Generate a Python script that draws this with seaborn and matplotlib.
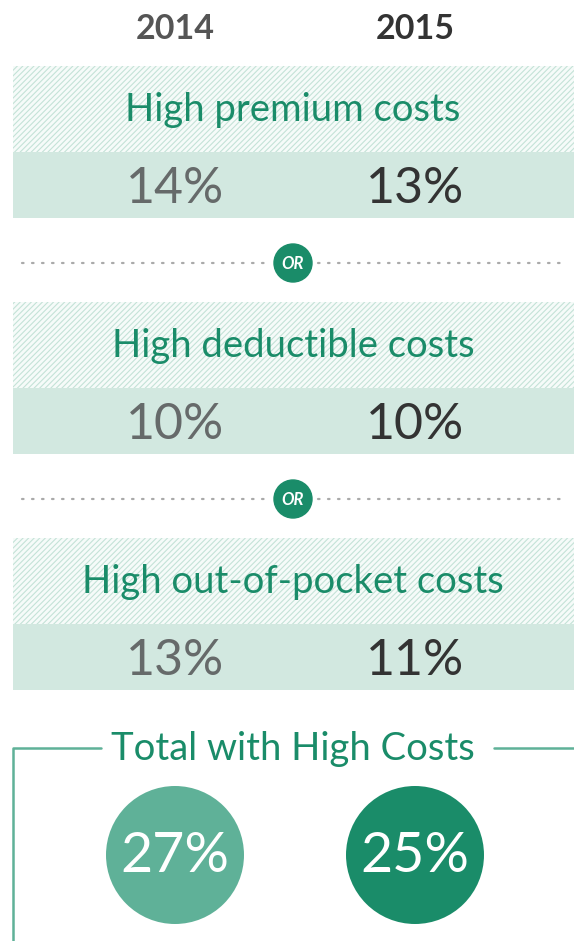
import matplotlib
matplotlib.use("Agg")
import matplotlib.pyplot as plt
import seaborn as sns
import pandas as pd
from matplotlib.patches import Rectangle, Circle

years = ["2014", "2015"]
categories = ["High premium costs", "High deductible costs", "High out-of-pocket costs"]
values_2014 = [14, 10, 13]
values_2015 = [13, 10, 11]
totals = [27, 25]
total_label = "Total with High Costs"

GREEN = "#1a8c69"
GREEN_LIGHT = "#5fb198"
BAND = "#d2e8e0"
STRIPE = "#c4e2d7"

W, H = 574, 941
col_x = [175, 415]
panel_top = [66, 302, 538]
hatch_h, band_h = 86, 66

sns.set_theme(style="white")
plt.rcParams["font.family"] = ["Lato", "DejaVu Sans"]
plt.rcParams["hatch.linewidth"] = 0.8

fig = plt.figure(figsize=(W / 100, H / 100), dpi=100)
ax = fig.add_axes([0, 0, 1, 1])
ax.set_xlim(0, W)
ax.set_ylim(H, 0)
ax.axis("off")

# year headers
for i, yr in enumerate(years):
    ax.text(col_x[i], 29, yr, ha="center", va="center", fontsize=24.5, fontweight="bold",
            color="#555555" if i == 0 else "#333333")

# category panels
for k, cat in enumerate(categories):
    top = panel_top[k]
    ax.add_patch(Rectangle((13, top), W - 13, hatch_h, facecolor="#f6fbf9",
                           edgecolor=STRIPE, hatch="//////", linewidth=0))
    ax.add_patch(Rectangle((13, top + hatch_h), W - 13, band_h, facecolor=BAND, linewidth=0))
    ax.text(293, top + hatch_h / 2 + 1, cat, ha="center", va="center", fontsize=27.5, color=GREEN)
    vals = [values_2014[k], values_2015[k]]
    for i, v in enumerate(vals):
        ax.text(col_x[i], top + hatch_h + band_h / 2 + 4, f"{v}%", ha="center", va="center",
                fontsize=36, color="#666a6a" if i == 0 else "#333333")

    # OR divider
    if k < len(categories) - 1:
        yd = top + hatch_h + band_h + 45
        ax.plot([22, 270], [yd, yd], color="#aaaaaa", lw=1.6, linestyle=(0, (0.7, 3.8)),
                dash_capstyle="round")
        ax.plot([318, 566], [yd, yd], color="#aaaaaa", lw=1.6, linestyle=(0, (0.7, 3.8)),
                dash_capstyle="round")
        ax.add_patch(Circle((293, yd), 19, color=GREEN))
        ax.text(293, yd + 1, "OR", ha="center", va="center", fontsize=12, color="white",
                fontweight="bold", fontstyle="italic")

# total section
ty = 748
ax.plot([13, 13, 101], [H, ty, ty], color=GREEN_LIGHT, lw=1.8)
ax.plot([494, W], [ty, ty], color=GREEN_LIGHT, lw=1.8)
ax.text(293, ty + 1, total_label, ha="center", va="center", fontsize=27.5, color=GREEN)

df = pd.DataFrame({"x": col_x, "y": [855, 855], "year": years, "total": totals})
sns.scatterplot(data=df, x="x", y="y", hue="year", palette=[GREEN_LIGHT, GREEN],
                s=(138 * 0.72) ** 2, linewidth=0, legend=False, ax=ax)
for _, r in df.iterrows():
    ax.text(r["x"], r["y"] + 2, f"{r['total']}%", ha="center", va="center",
            fontsize=40, color="white")

ax.set_xlim(0, W)
ax.set_ylim(H, 0)
ax.axis("off")
fig.savefig("out.png", dpi=100)
